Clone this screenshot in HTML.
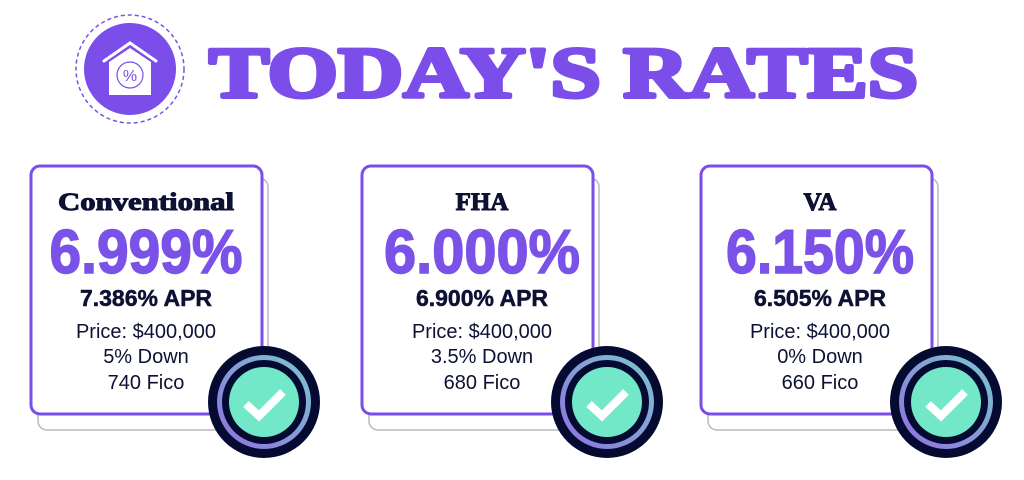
<!DOCTYPE html>
<html><head><style>body{margin:0;background:#fff}svg{display:block}</style></head>
<body>
<svg width="1024" height="480" viewBox="0 0 1024 480" xmlns="http://www.w3.org/2000/svg">
<defs>
<linearGradient id="g" x1="0" y1="1" x2="1" y2="0"><stop offset="0" stop-color="#8f6ee0"/><stop offset="1" stop-color="#7cc8cf"/></linearGradient>
</defs>
<circle cx="130" cy="69" r="54" fill="none" stroke="#7b52e8" stroke-width="1.5" stroke-dasharray="4 3"/>
<circle cx="130" cy="69" r="46" fill="#7b4de9"/>
<path d="M104 61 L130 43 L156 61" fill="none" stroke="#fff" stroke-width="3" stroke-linecap="round"/>
<path d="M109 62 L130 48 L151 62 L151 95 L109 95 Z" fill="#fff"/>
<circle cx="130" cy="75" r="13" fill="none" stroke="#7b4de9" stroke-width="1.2"/>
<text x="130" y="81" font-family="Liberation Sans" font-size="16" fill="#7b4de9" text-anchor="middle">%</text>
<text x="209" y="97" font-family="Liberation Serif" font-weight="bold" font-size="72" fill="#7b4de9" stroke="#7b4de9" stroke-width="4" stroke-linejoin="round" textLength="709" lengthAdjust="spacingAndGlyphs">TODAY'S RATES</text>

<g font-family="Liberation Sans" text-anchor="middle">
<rect x="38" y="178" width="230" height="252" rx="9" fill="#fff" stroke="#b8b8c0" stroke-width="1.5"/>
<rect x="31" y="166" width="231" height="248" rx="9" fill="#fff" stroke="#7b4de9" stroke-width="3"/>
<rect x="369" y="178" width="230" height="252" rx="9" fill="#fff" stroke="#b8b8c0" stroke-width="1.5"/>
<rect x="362" y="166" width="231" height="248" rx="9" fill="#fff" stroke="#7b4de9" stroke-width="3"/>
<rect x="708" y="178" width="230" height="252" rx="9" fill="#fff" stroke="#b8b8c0" stroke-width="1.5"/>
<rect x="701" y="166" width="231" height="248" rx="9" fill="#fff" stroke="#7b4de9" stroke-width="3"/>

<g fill="#0d1133">
<text x="146" y="210" font-family="Liberation Serif" font-weight="bold" font-size="25" stroke="#0d1133" stroke-width="1" textLength="176" lengthAdjust="spacingAndGlyphs">Conventional</text>
<text x="482" y="210" font-family="Liberation Serif" font-weight="bold" font-size="25" stroke="#0d1133" stroke-width="1">FHA</text>
<text x="820" y="210" font-family="Liberation Serif" font-weight="bold" font-size="25" stroke="#0d1133" stroke-width="1">VA</text>
</g>
<g font-weight="bold" font-size="62" fill="#7b52e8" stroke="#7b52e8" stroke-width="1.5">
<text x="146" y="273" textLength="193" lengthAdjust="spacingAndGlyphs">6.999%</text>
<text x="482" y="273" textLength="196" lengthAdjust="spacingAndGlyphs">6.000%</text>
<text x="820" y="273" textLength="188" lengthAdjust="spacingAndGlyphs">6.150%</text>
</g>
<g font-weight="bold" font-size="23" fill="#0d1133" stroke="#0d1133" stroke-width="0.5">
<text x="146" y="306">7.386% APR</text>
<text x="482" y="306">6.900% APR</text>
<text x="820" y="306">6.505% APR</text>
</g>
<g font-size="20" fill="#0d1133">
<text x="146" y="338">Price: $400,000</text>
<text x="146" y="363">5% Down</text>
<text x="146" y="389">740 Fico</text>
<text x="482" y="338">Price: $400,000</text>
<text x="482" y="363">3.5% Down</text>
<text x="482" y="389">680 Fico</text>
<text x="820" y="338">Price: $400,000</text>
<text x="820" y="363">0% Down</text>
<text x="820" y="389">660 Fico</text>
</g>
</g>

<g id="chk">
<circle cx="264" cy="402" r="56" fill="#050a30"/>
<circle cx="264" cy="402" r="47" fill="url(#g)"/>
<circle cx="264" cy="402" r="42" fill="#050a30"/>
<circle cx="264" cy="402" r="35" fill="#72e8c9"/>
<path d="M246 404 L259 416 L283 392" fill="none" stroke="#fff" stroke-width="8"/>
</g>
<use href="#chk" x="343"/>
<use href="#chk" x="682"/>
</svg>
</body></html>
